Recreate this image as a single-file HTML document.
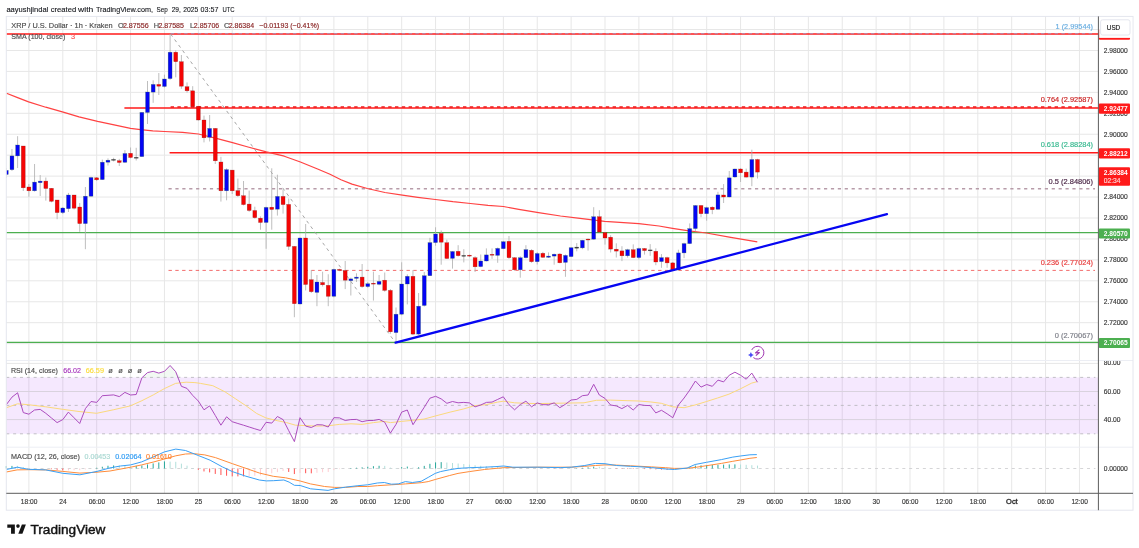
<!DOCTYPE html>
<html><head><meta charset="utf-8"><title>XRP / U.S. Dollar chart</title>
<style>html,body{margin:0;padding:0;background:#fff}body{width:1139px;height:548px;overflow:hidden;font-family:"Liberation Sans",sans-serif}</style>
</head><body>
<svg width="1139" height="548" viewBox="0 0 1139 548" style="display:block;will-change:transform" font-family="Liberation Sans, sans-serif">
<rect x="0" y="0" width="1139" height="548" fill="#ffffff"/>
<line x1="28.90" y1="16.4" x2="28.90" y2="493.3" stroke="#e7e7e7" stroke-width="1"/>
<line x1="62.79" y1="16.4" x2="62.79" y2="493.3" stroke="#e7e7e7" stroke-width="1"/>
<line x1="96.68" y1="16.4" x2="96.68" y2="493.3" stroke="#e7e7e7" stroke-width="1"/>
<line x1="130.57" y1="16.4" x2="130.57" y2="493.3" stroke="#e7e7e7" stroke-width="1"/>
<line x1="164.46" y1="16.4" x2="164.46" y2="493.3" stroke="#e7e7e7" stroke-width="1"/>
<line x1="198.35" y1="16.4" x2="198.35" y2="493.3" stroke="#e7e7e7" stroke-width="1"/>
<line x1="232.23" y1="16.4" x2="232.23" y2="493.3" stroke="#e7e7e7" stroke-width="1"/>
<line x1="266.12" y1="16.4" x2="266.12" y2="493.3" stroke="#e7e7e7" stroke-width="1"/>
<line x1="300.01" y1="16.4" x2="300.01" y2="493.3" stroke="#e7e7e7" stroke-width="1"/>
<line x1="333.90" y1="16.4" x2="333.90" y2="493.3" stroke="#e7e7e7" stroke-width="1"/>
<line x1="367.79" y1="16.4" x2="367.79" y2="493.3" stroke="#e7e7e7" stroke-width="1"/>
<line x1="401.68" y1="16.4" x2="401.68" y2="493.3" stroke="#e7e7e7" stroke-width="1"/>
<line x1="435.57" y1="16.4" x2="435.57" y2="493.3" stroke="#e7e7e7" stroke-width="1"/>
<line x1="469.46" y1="16.4" x2="469.46" y2="493.3" stroke="#e7e7e7" stroke-width="1"/>
<line x1="503.35" y1="16.4" x2="503.35" y2="493.3" stroke="#e7e7e7" stroke-width="1"/>
<line x1="537.24" y1="16.4" x2="537.24" y2="493.3" stroke="#e7e7e7" stroke-width="1"/>
<line x1="571.12" y1="16.4" x2="571.12" y2="493.3" stroke="#e7e7e7" stroke-width="1"/>
<line x1="605.01" y1="16.4" x2="605.01" y2="493.3" stroke="#e7e7e7" stroke-width="1"/>
<line x1="638.90" y1="16.4" x2="638.90" y2="493.3" stroke="#e7e7e7" stroke-width="1"/>
<line x1="672.79" y1="16.4" x2="672.79" y2="493.3" stroke="#e7e7e7" stroke-width="1"/>
<line x1="706.68" y1="16.4" x2="706.68" y2="493.3" stroke="#e7e7e7" stroke-width="1"/>
<line x1="740.57" y1="16.4" x2="740.57" y2="493.3" stroke="#e7e7e7" stroke-width="1"/>
<line x1="774.46" y1="16.4" x2="774.46" y2="493.3" stroke="#e7e7e7" stroke-width="1"/>
<line x1="808.35" y1="16.4" x2="808.35" y2="493.3" stroke="#e7e7e7" stroke-width="1"/>
<line x1="842.24" y1="16.4" x2="842.24" y2="493.3" stroke="#e7e7e7" stroke-width="1"/>
<line x1="876.12" y1="16.4" x2="876.12" y2="493.3" stroke="#e7e7e7" stroke-width="1"/>
<line x1="910.01" y1="16.4" x2="910.01" y2="493.3" stroke="#e7e7e7" stroke-width="1"/>
<line x1="943.90" y1="16.4" x2="943.90" y2="493.3" stroke="#e7e7e7" stroke-width="1"/>
<line x1="977.79" y1="16.4" x2="977.79" y2="493.3" stroke="#e7e7e7" stroke-width="1"/>
<line x1="1011.68" y1="16.4" x2="1011.68" y2="493.3" stroke="#e7e7e7" stroke-width="1"/>
<line x1="1045.57" y1="16.4" x2="1045.57" y2="493.3" stroke="#e7e7e7" stroke-width="1"/>
<line x1="1079.46" y1="16.4" x2="1079.46" y2="493.3" stroke="#e7e7e7" stroke-width="1"/>
<line x1="6.3" y1="29.54" x2="1098.4" y2="29.54" stroke="#e7e7e7" stroke-width="1"/>
<line x1="6.3" y1="50.48" x2="1098.4" y2="50.48" stroke="#e7e7e7" stroke-width="1"/>
<line x1="6.3" y1="71.42" x2="1098.4" y2="71.42" stroke="#e7e7e7" stroke-width="1"/>
<line x1="6.3" y1="92.36" x2="1098.4" y2="92.36" stroke="#e7e7e7" stroke-width="1"/>
<line x1="6.3" y1="113.30" x2="1098.4" y2="113.30" stroke="#e7e7e7" stroke-width="1"/>
<line x1="6.3" y1="134.24" x2="1098.4" y2="134.24" stroke="#e7e7e7" stroke-width="1"/>
<line x1="6.3" y1="155.18" x2="1098.4" y2="155.18" stroke="#e7e7e7" stroke-width="1"/>
<line x1="6.3" y1="176.12" x2="1098.4" y2="176.12" stroke="#e7e7e7" stroke-width="1"/>
<line x1="6.3" y1="197.06" x2="1098.4" y2="197.06" stroke="#e7e7e7" stroke-width="1"/>
<line x1="6.3" y1="218.00" x2="1098.4" y2="218.00" stroke="#e7e7e7" stroke-width="1"/>
<line x1="6.3" y1="238.94" x2="1098.4" y2="238.94" stroke="#e7e7e7" stroke-width="1"/>
<line x1="6.3" y1="259.88" x2="1098.4" y2="259.88" stroke="#e7e7e7" stroke-width="1"/>
<line x1="6.3" y1="280.82" x2="1098.4" y2="280.82" stroke="#e7e7e7" stroke-width="1"/>
<line x1="6.3" y1="301.76" x2="1098.4" y2="301.76" stroke="#e7e7e7" stroke-width="1"/>
<line x1="6.3" y1="322.70" x2="1098.4" y2="322.70" stroke="#e7e7e7" stroke-width="1"/>
<line x1="6.3" y1="343.64" x2="1098.4" y2="343.64" stroke="#e7e7e7" stroke-width="1"/>
<rect x="6.3" y="377.4" width="1092.1" height="56.4" fill="#ac3ff7" fill-opacity="0.12"/>
<line x1="6.3" y1="363.40" x2="1098.4" y2="363.40" stroke="#e7e7e7" stroke-width="1"/>
<line x1="6.3" y1="391.50" x2="1098.4" y2="391.50" stroke="#d9d2de" stroke-width="1"/>
<line x1="6.3" y1="419.60" x2="1098.4" y2="419.60" stroke="#d9d2de" stroke-width="1"/>
<line x1="6.3" y1="377.40" x2="1095.4" y2="377.40" stroke="#b4b2b8" stroke-width="0.8" stroke-dasharray="3,3.84"/>
<line x1="6.3" y1="405.40" x2="1095.4" y2="405.40" stroke="#b4b2b8" stroke-width="0.8" stroke-dasharray="3,3.84"/>
<line x1="6.3" y1="433.80" x2="1095.4" y2="433.80" stroke="#b4b2b8" stroke-width="0.8" stroke-dasharray="3,3.84"/>
<line x1="6.3" y1="468.5" x2="1095.4" y2="468.5" stroke="#cacacd" stroke-width="0.8" stroke-dasharray="3,3.84"/>
<line x1="6.3" y1="360.50" x2="1133.0" y2="360.50" stroke="#eceef4" stroke-width="1"/>
<line x1="6.3" y1="447.20" x2="1133.0" y2="447.20" stroke="#eceef4" stroke-width="1"/>
<line x1="6.3" y1="34.0" x2="1098.4" y2="34.0" stroke="#ff1a1a" stroke-width="1.5"/>
<line x1="170.6" y1="33.7" x2="1095" y2="33.7" stroke="#8fa6d8" stroke-width="0.7" stroke-dasharray="3.4,3.4"/>
<line x1="124.4" y1="108.0" x2="1098.4" y2="108.0" stroke="#ff1a1a" stroke-width="1.4"/>
<line x1="170.6" y1="107.0" x2="1095" y2="107.0" stroke="#f01818" stroke-width="1.3" stroke-dasharray="3.4,3.4"/>
<line x1="169.6" y1="152.7" x2="1098.4" y2="152.7" stroke="#ff1a1a" stroke-width="1.4"/>
<line x1="168.5" y1="188.8" x2="1095" y2="188.8" stroke="#b79ca9" stroke-width="1.5" stroke-dasharray="3.2,3.7"/>
<line x1="168.5" y1="270.4" x2="1095" y2="270.4" stroke="#f04848" stroke-width="0.8" stroke-dasharray="3.4,3.4"/>
<line x1="6.3" y1="232.6" x2="1098.4" y2="232.6" stroke="#4caf50" stroke-width="1.4"/>
<line x1="6.3" y1="342.4" x2="1098.4" y2="342.4" stroke="#4caf50" stroke-width="1.4"/>
<line x1="170.6" y1="34" x2="395" y2="342" stroke="#9c9c9c" stroke-width="0.9" stroke-dasharray="3.2,3.6"/>
<polyline points="6.5,93.2 17.6,97.6 28.6,101.9 45.7,107.2 63.2,112.1 79.0,116.9 97.6,121.3 114.1,124.8 130.5,128.3 140.5,129.7 152.8,130.9 164.5,131.5 182.6,132.3 198.4,134.0 217.3,138.6 232.5,142.6 248.0,147.0 266.4,151.9 284.3,156.2 300.4,162.0 317.6,169.0 330.0,174.3 341.0,179.8 352.0,184.1 367.3,188.5 384.9,192.5 402.4,195.1 417.8,197.3 435.4,199.5 452.9,201.7 470.5,203.5 488.0,205.4 503.4,206.5 518.8,209.4 538.5,212.7 560.5,216.0 580.0,218.4 604.6,221.3 638.8,223.6 659.0,226.0 672.5,228.3 688.9,230.9 706.4,233.0 729.3,237.1 757.3,241.8" fill="none" stroke="#ff4242" stroke-width="1.2" stroke-linejoin="round"/>
<clipPath id="cp"><rect x="6.3" y="16.4" width="1092.1" height="476.9"/></clipPath>
<g clip-path="url(#cp)">
<line x1="6.31" y1="168.0" x2="6.31" y2="178.0" stroke="#adadad" stroke-width="0.8"/>
<rect x="4.36" y="170.4" width="3.9" height="4.1" fill="#0404f4" stroke="#2e6b3a" stroke-opacity="0.55" stroke-width="0.45"/>
<line x1="11.96" y1="149.0" x2="11.96" y2="171.0" stroke="#adadad" stroke-width="0.8"/>
<rect x="10.01" y="155.9" width="3.9" height="13.8" fill="#0404f4" stroke="#2e6b3a" stroke-opacity="0.55" stroke-width="0.45"/>
<line x1="17.60" y1="136.2" x2="17.60" y2="168.0" stroke="#adadad" stroke-width="0.8"/>
<rect x="15.65" y="145.0" width="3.9" height="10.9" fill="#0404f4" stroke="#2e6b3a" stroke-opacity="0.55" stroke-width="0.45"/>
<line x1="23.25" y1="146.0" x2="23.25" y2="191.0" stroke="#adadad" stroke-width="0.8"/>
<rect x="21.30" y="146.0" width="3.9" height="41.8" fill="#f40404" stroke="#7a1414" stroke-opacity="0.55" stroke-width="0.45"/>
<line x1="28.90" y1="184.0" x2="28.90" y2="196.7" stroke="#adadad" stroke-width="0.8"/>
<rect x="26.95" y="187.0" width="3.9" height="3.8" fill="#f40404" stroke="#7a1414" stroke-opacity="0.55" stroke-width="0.45"/>
<line x1="34.55" y1="164.0" x2="34.55" y2="191.6" stroke="#adadad" stroke-width="0.8"/>
<rect x="32.60" y="182.1" width="3.9" height="8.7" fill="#0404f4" stroke="#2e6b3a" stroke-opacity="0.55" stroke-width="0.45"/>
<line x1="40.20" y1="175.0" x2="40.20" y2="196.0" stroke="#adadad" stroke-width="0.8"/>
<rect x="38.25" y="181.1" width="3.9" height="1.6" fill="#0404f4" stroke="#2e6b3a" stroke-opacity="0.55" stroke-width="0.45"/>
<line x1="45.84" y1="177.5" x2="45.84" y2="200.6" stroke="#adadad" stroke-width="0.8"/>
<rect x="43.89" y="181.1" width="3.9" height="7.4" fill="#f40404" stroke="#7a1414" stroke-opacity="0.55" stroke-width="0.45"/>
<line x1="51.49" y1="188.0" x2="51.49" y2="202.3" stroke="#adadad" stroke-width="0.8"/>
<rect x="49.54" y="188.3" width="3.9" height="13.0" fill="#f40404" stroke="#7a1414" stroke-opacity="0.55" stroke-width="0.45"/>
<line x1="57.14" y1="200.0" x2="57.14" y2="219.2" stroke="#adadad" stroke-width="0.8"/>
<rect x="55.19" y="200.0" width="3.9" height="12.6" fill="#f40404" stroke="#7a1414" stroke-opacity="0.55" stroke-width="0.45"/>
<line x1="62.79" y1="207.0" x2="62.79" y2="214.0" stroke="#adadad" stroke-width="0.8"/>
<rect x="60.84" y="208.0" width="3.9" height="4.6" fill="#0404f4" stroke="#2e6b3a" stroke-opacity="0.55" stroke-width="0.45"/>
<line x1="68.44" y1="192.9" x2="68.44" y2="212.0" stroke="#adadad" stroke-width="0.8"/>
<rect x="66.49" y="195.0" width="3.9" height="13.7" fill="#0404f4" stroke="#2e6b3a" stroke-opacity="0.55" stroke-width="0.45"/>
<line x1="74.08" y1="195.0" x2="74.08" y2="209.5" stroke="#adadad" stroke-width="0.8"/>
<rect x="72.13" y="195.0" width="3.9" height="13.2" fill="#f40404" stroke="#7a1414" stroke-opacity="0.55" stroke-width="0.45"/>
<line x1="79.73" y1="203.0" x2="79.73" y2="231.8" stroke="#adadad" stroke-width="0.8"/>
<rect x="77.78" y="207.0" width="3.9" height="16.6" fill="#f40404" stroke="#7a1414" stroke-opacity="0.55" stroke-width="0.45"/>
<line x1="85.38" y1="187.0" x2="85.38" y2="249.2" stroke="#adadad" stroke-width="0.8"/>
<rect x="83.43" y="196.2" width="3.9" height="27.4" fill="#0404f4" stroke="#2e6b3a" stroke-opacity="0.55" stroke-width="0.45"/>
<line x1="91.03" y1="176.7" x2="91.03" y2="196.7" stroke="#adadad" stroke-width="0.8"/>
<rect x="89.08" y="177.5" width="3.9" height="18.7" fill="#0404f4" stroke="#2e6b3a" stroke-opacity="0.55" stroke-width="0.45"/>
<line x1="96.68" y1="177.0" x2="96.68" y2="181.0" stroke="#adadad" stroke-width="0.8"/>
<rect x="94.73" y="177.8" width="3.9" height="2.0" fill="#f40404" stroke="#7a1414" stroke-opacity="0.55" stroke-width="0.45"/>
<line x1="102.32" y1="159.6" x2="102.32" y2="180.0" stroke="#adadad" stroke-width="0.8"/>
<rect x="100.37" y="162.2" width="3.9" height="17.4" fill="#0404f4" stroke="#2e6b3a" stroke-opacity="0.55" stroke-width="0.45"/>
<line x1="107.97" y1="158.4" x2="107.97" y2="165.5" stroke="#adadad" stroke-width="0.8"/>
<rect x="106.02" y="160.2" width="3.9" height="2.0" fill="#0404f4" stroke="#2e6b3a" stroke-opacity="0.55" stroke-width="0.45"/>
<line x1="113.62" y1="157.8" x2="113.62" y2="161.4" stroke="#adadad" stroke-width="0.8"/>
<rect x="111.67" y="159.4" width="3.9" height="0.9" fill="#333333" stroke="#333333" stroke-opacity="0.55" stroke-width="0.45"/>
<line x1="119.27" y1="158.9" x2="119.27" y2="166.0" stroke="#adadad" stroke-width="0.8"/>
<rect x="117.32" y="160.7" width="3.9" height="1.8" fill="#f40404" stroke="#7a1414" stroke-opacity="0.55" stroke-width="0.45"/>
<line x1="124.92" y1="150.1" x2="124.92" y2="163.0" stroke="#adadad" stroke-width="0.8"/>
<rect x="122.97" y="153.5" width="3.9" height="8.8" fill="#0404f4" stroke="#2e6b3a" stroke-opacity="0.55" stroke-width="0.45"/>
<line x1="130.56" y1="147.5" x2="130.56" y2="158.4" stroke="#adadad" stroke-width="0.8"/>
<rect x="128.61" y="153.3" width="3.9" height="4.2" fill="#f40404" stroke="#7a1414" stroke-opacity="0.55" stroke-width="0.45"/>
<line x1="136.21" y1="147.8" x2="136.21" y2="160.5" stroke="#adadad" stroke-width="0.8"/>
<rect x="134.26" y="157.3" width="3.9" height="0.9" fill="#333333" stroke="#333333" stroke-opacity="0.55" stroke-width="0.45"/>
<line x1="141.86" y1="112.0" x2="141.86" y2="157.0" stroke="#adadad" stroke-width="0.8"/>
<rect x="139.91" y="112.4" width="3.9" height="44.2" fill="#0404f4" stroke="#2e6b3a" stroke-opacity="0.55" stroke-width="0.45"/>
<line x1="147.51" y1="81.0" x2="147.51" y2="124.0" stroke="#adadad" stroke-width="0.8"/>
<rect x="145.56" y="92.0" width="3.9" height="20.5" fill="#0404f4" stroke="#2e6b3a" stroke-opacity="0.55" stroke-width="0.45"/>
<line x1="153.16" y1="80.3" x2="153.16" y2="102.8" stroke="#adadad" stroke-width="0.8"/>
<rect x="151.21" y="84.4" width="3.9" height="7.7" fill="#0404f4" stroke="#2e6b3a" stroke-opacity="0.55" stroke-width="0.45"/>
<line x1="158.80" y1="73.0" x2="158.80" y2="95.0" stroke="#adadad" stroke-width="0.8"/>
<rect x="156.85" y="84.4" width="3.9" height="1.8" fill="#f40404" stroke="#7a1414" stroke-opacity="0.55" stroke-width="0.45"/>
<line x1="164.45" y1="74.7" x2="164.45" y2="87.5" stroke="#adadad" stroke-width="0.8"/>
<rect x="162.50" y="79.0" width="3.9" height="7.5" fill="#0404f4" stroke="#2e6b3a" stroke-opacity="0.55" stroke-width="0.45"/>
<line x1="170.10" y1="34.1" x2="170.10" y2="79.8" stroke="#adadad" stroke-width="0.8"/>
<rect x="168.15" y="52.2" width="3.9" height="26.4" fill="#0404f4" stroke="#2e6b3a" stroke-opacity="0.55" stroke-width="0.45"/>
<line x1="175.75" y1="50.4" x2="175.75" y2="77.3" stroke="#adadad" stroke-width="0.8"/>
<rect x="173.80" y="52.2" width="3.9" height="9.5" fill="#f40404" stroke="#7a1414" stroke-opacity="0.55" stroke-width="0.45"/>
<line x1="181.40" y1="55.0" x2="181.40" y2="88.8" stroke="#adadad" stroke-width="0.8"/>
<rect x="179.45" y="61.7" width="3.9" height="24.5" fill="#f40404" stroke="#7a1414" stroke-opacity="0.55" stroke-width="0.45"/>
<line x1="187.04" y1="82.4" x2="187.04" y2="92.6" stroke="#adadad" stroke-width="0.8"/>
<rect x="185.09" y="86.7" width="3.9" height="4.1" fill="#f40404" stroke="#7a1414" stroke-opacity="0.55" stroke-width="0.45"/>
<line x1="192.69" y1="86.2" x2="192.69" y2="107.0" stroke="#adadad" stroke-width="0.8"/>
<rect x="190.74" y="90.8" width="3.9" height="15.9" fill="#f40404" stroke="#7a1414" stroke-opacity="0.55" stroke-width="0.45"/>
<line x1="198.34" y1="106.0" x2="198.34" y2="120.7" stroke="#adadad" stroke-width="0.8"/>
<rect x="196.39" y="106.2" width="3.9" height="13.8" fill="#f40404" stroke="#7a1414" stroke-opacity="0.55" stroke-width="0.45"/>
<line x1="203.99" y1="115.6" x2="203.99" y2="142.4" stroke="#adadad" stroke-width="0.8"/>
<rect x="202.04" y="120.0" width="3.9" height="17.8" fill="#f40404" stroke="#7a1414" stroke-opacity="0.55" stroke-width="0.45"/>
<line x1="209.64" y1="115.0" x2="209.64" y2="141.5" stroke="#adadad" stroke-width="0.8"/>
<rect x="207.69" y="128.4" width="3.9" height="8.9" fill="#0404f4" stroke="#2e6b3a" stroke-opacity="0.55" stroke-width="0.45"/>
<line x1="215.28" y1="128.0" x2="215.28" y2="164.0" stroke="#adadad" stroke-width="0.8"/>
<rect x="213.33" y="128.4" width="3.9" height="32.4" fill="#f40404" stroke="#7a1414" stroke-opacity="0.55" stroke-width="0.45"/>
<line x1="220.93" y1="156.8" x2="220.93" y2="201.6" stroke="#adadad" stroke-width="0.8"/>
<rect x="218.98" y="162.0" width="3.9" height="28.8" fill="#f40404" stroke="#7a1414" stroke-opacity="0.55" stroke-width="0.45"/>
<line x1="226.58" y1="168.3" x2="226.58" y2="200.3" stroke="#adadad" stroke-width="0.8"/>
<rect x="224.63" y="169.6" width="3.9" height="21.2" fill="#0404f4" stroke="#2e6b3a" stroke-opacity="0.55" stroke-width="0.45"/>
<line x1="232.23" y1="170.0" x2="232.23" y2="194.0" stroke="#adadad" stroke-width="0.8"/>
<rect x="230.28" y="170.1" width="3.9" height="20.7" fill="#f40404" stroke="#7a1414" stroke-opacity="0.55" stroke-width="0.45"/>
<line x1="237.88" y1="178.6" x2="237.88" y2="197.0" stroke="#adadad" stroke-width="0.8"/>
<rect x="235.93" y="190.6" width="3.9" height="5.1" fill="#f40404" stroke="#7a1414" stroke-opacity="0.55" stroke-width="0.45"/>
<line x1="243.52" y1="181.0" x2="243.52" y2="205.4" stroke="#adadad" stroke-width="0.8"/>
<rect x="241.57" y="195.7" width="3.9" height="8.9" fill="#f40404" stroke="#7a1414" stroke-opacity="0.55" stroke-width="0.45"/>
<line x1="249.17" y1="190.6" x2="249.17" y2="211.8" stroke="#adadad" stroke-width="0.8"/>
<rect x="247.22" y="204.1" width="3.9" height="6.4" fill="#f40404" stroke="#7a1414" stroke-opacity="0.55" stroke-width="0.45"/>
<line x1="254.82" y1="206.7" x2="254.82" y2="218.7" stroke="#adadad" stroke-width="0.8"/>
<rect x="252.87" y="210.5" width="3.9" height="7.2" fill="#f40404" stroke="#7a1414" stroke-opacity="0.55" stroke-width="0.45"/>
<line x1="260.47" y1="216.4" x2="260.47" y2="229.7" stroke="#adadad" stroke-width="0.8"/>
<rect x="258.52" y="218.2" width="3.9" height="4.3" fill="#f40404" stroke="#7a1414" stroke-opacity="0.55" stroke-width="0.45"/>
<line x1="266.12" y1="206.7" x2="266.12" y2="248.8" stroke="#adadad" stroke-width="0.8"/>
<rect x="264.17" y="207.4" width="3.9" height="15.1" fill="#0404f4" stroke="#2e6b3a" stroke-opacity="0.55" stroke-width="0.45"/>
<line x1="271.76" y1="168.3" x2="271.76" y2="229.7" stroke="#adadad" stroke-width="0.8"/>
<rect x="269.81" y="207.2" width="3.9" height="2.3" fill="#f40404" stroke="#7a1414" stroke-opacity="0.55" stroke-width="0.45"/>
<line x1="277.41" y1="174.7" x2="277.41" y2="215.6" stroke="#adadad" stroke-width="0.8"/>
<rect x="275.46" y="196.4" width="3.9" height="12.8" fill="#0404f4" stroke="#2e6b3a" stroke-opacity="0.55" stroke-width="0.45"/>
<line x1="283.06" y1="189.3" x2="283.06" y2="213.6" stroke="#adadad" stroke-width="0.8"/>
<rect x="281.11" y="196.4" width="3.9" height="8.2" fill="#f40404" stroke="#7a1414" stroke-opacity="0.55" stroke-width="0.45"/>
<line x1="288.71" y1="198.5" x2="288.71" y2="250.0" stroke="#adadad" stroke-width="0.8"/>
<rect x="286.76" y="204.4" width="3.9" height="42.0" fill="#f40404" stroke="#7a1414" stroke-opacity="0.55" stroke-width="0.45"/>
<line x1="294.36" y1="246.0" x2="294.36" y2="317.2" stroke="#adadad" stroke-width="0.8"/>
<rect x="292.41" y="246.4" width="3.9" height="57.3" fill="#f40404" stroke="#7a1414" stroke-opacity="0.55" stroke-width="0.45"/>
<line x1="300.00" y1="237.5" x2="300.00" y2="304.5" stroke="#adadad" stroke-width="0.8"/>
<rect x="298.05" y="238.0" width="3.9" height="66.0" fill="#0404f4" stroke="#2e6b3a" stroke-opacity="0.55" stroke-width="0.45"/>
<line x1="305.65" y1="224.0" x2="305.65" y2="290.4" stroke="#adadad" stroke-width="0.8"/>
<rect x="303.70" y="238.0" width="3.9" height="46.5" fill="#f40404" stroke="#7a1414" stroke-opacity="0.55" stroke-width="0.45"/>
<line x1="311.30" y1="270.0" x2="311.30" y2="293.0" stroke="#adadad" stroke-width="0.8"/>
<rect x="309.35" y="279.7" width="3.9" height="12.0" fill="#f40404" stroke="#7a1414" stroke-opacity="0.55" stroke-width="0.45"/>
<line x1="316.95" y1="275.0" x2="316.95" y2="306.2" stroke="#adadad" stroke-width="0.8"/>
<rect x="315.00" y="282.0" width="3.9" height="10.4" fill="#0404f4" stroke="#2e6b3a" stroke-opacity="0.55" stroke-width="0.45"/>
<line x1="322.60" y1="271.7" x2="322.60" y2="286.5" stroke="#adadad" stroke-width="0.8"/>
<rect x="320.65" y="282.5" width="3.9" height="2.3" fill="#f40404" stroke="#7a1414" stroke-opacity="0.55" stroke-width="0.45"/>
<line x1="328.24" y1="274.3" x2="328.24" y2="306.2" stroke="#adadad" stroke-width="0.8"/>
<rect x="326.29" y="285.3" width="3.9" height="11.0" fill="#f40404" stroke="#7a1414" stroke-opacity="0.55" stroke-width="0.45"/>
<line x1="333.89" y1="268.7" x2="333.89" y2="297.3" stroke="#adadad" stroke-width="0.8"/>
<rect x="331.94" y="269.4" width="3.9" height="26.9" fill="#0404f4" stroke="#2e6b3a" stroke-opacity="0.55" stroke-width="0.45"/>
<line x1="339.54" y1="268.7" x2="339.54" y2="271.2" stroke="#adadad" stroke-width="0.8"/>
<rect x="337.59" y="269.4" width="3.9" height="0.9" fill="#f40404" stroke="#7a1414" stroke-opacity="0.55" stroke-width="0.45"/>
<line x1="345.19" y1="261.0" x2="345.19" y2="289.1" stroke="#adadad" stroke-width="0.8"/>
<rect x="343.24" y="270.5" width="3.9" height="9.7" fill="#f40404" stroke="#7a1414" stroke-opacity="0.55" stroke-width="0.45"/>
<line x1="350.84" y1="277.6" x2="350.84" y2="295.5" stroke="#adadad" stroke-width="0.8"/>
<rect x="348.89" y="278.9" width="3.9" height="1.8" fill="#0404f4" stroke="#2e6b3a" stroke-opacity="0.55" stroke-width="0.45"/>
<line x1="356.48" y1="273.3" x2="356.48" y2="282.0" stroke="#adadad" stroke-width="0.8"/>
<rect x="354.53" y="277.1" width="3.9" height="1.3" fill="#0404f4" stroke="#2e6b3a" stroke-opacity="0.55" stroke-width="0.45"/>
<line x1="362.13" y1="264.0" x2="362.13" y2="287.8" stroke="#adadad" stroke-width="0.8"/>
<rect x="360.18" y="277.1" width="3.9" height="9.5" fill="#f40404" stroke="#7a1414" stroke-opacity="0.55" stroke-width="0.45"/>
<line x1="367.78" y1="282.0" x2="367.78" y2="287.8" stroke="#adadad" stroke-width="0.8"/>
<rect x="365.83" y="283.7" width="3.9" height="2.9" fill="#0404f4" stroke="#2e6b3a" stroke-opacity="0.55" stroke-width="0.45"/>
<line x1="373.43" y1="271.7" x2="373.43" y2="300.6" stroke="#adadad" stroke-width="0.8"/>
<rect x="371.48" y="283.2" width="3.9" height="0.9" fill="#f40404" stroke="#7a1414" stroke-opacity="0.55" stroke-width="0.45"/>
<line x1="379.08" y1="275.0" x2="379.08" y2="285.3" stroke="#adadad" stroke-width="0.8"/>
<rect x="377.13" y="281.4" width="3.9" height="2.9" fill="#0404f4" stroke="#2e6b3a" stroke-opacity="0.55" stroke-width="0.45"/>
<line x1="384.72" y1="272.5" x2="384.72" y2="291.7" stroke="#adadad" stroke-width="0.8"/>
<rect x="382.77" y="280.2" width="3.9" height="10.2" fill="#f40404" stroke="#7a1414" stroke-opacity="0.55" stroke-width="0.45"/>
<line x1="390.37" y1="289.0" x2="390.37" y2="333.8" stroke="#adadad" stroke-width="0.8"/>
<rect x="388.42" y="290.4" width="3.9" height="41.4" fill="#f40404" stroke="#7a1414" stroke-opacity="0.55" stroke-width="0.45"/>
<line x1="396.02" y1="307.5" x2="396.02" y2="342.0" stroke="#adadad" stroke-width="0.8"/>
<rect x="394.07" y="314.2" width="3.9" height="18.4" fill="#0404f4" stroke="#2e6b3a" stroke-opacity="0.55" stroke-width="0.45"/>
<line x1="401.67" y1="262.3" x2="401.67" y2="315.2" stroke="#adadad" stroke-width="0.8"/>
<rect x="399.72" y="284.0" width="3.9" height="30.2" fill="#0404f4" stroke="#2e6b3a" stroke-opacity="0.55" stroke-width="0.45"/>
<line x1="407.32" y1="274.3" x2="407.32" y2="304.4" stroke="#adadad" stroke-width="0.8"/>
<rect x="405.37" y="276.3" width="3.9" height="7.7" fill="#0404f4" stroke="#2e6b3a" stroke-opacity="0.55" stroke-width="0.45"/>
<line x1="412.96" y1="270.0" x2="412.96" y2="335.1" stroke="#adadad" stroke-width="0.8"/>
<rect x="411.01" y="276.3" width="3.9" height="57.8" fill="#f40404" stroke="#7a1414" stroke-opacity="0.55" stroke-width="0.45"/>
<line x1="418.61" y1="293.0" x2="418.61" y2="335.1" stroke="#adadad" stroke-width="0.8"/>
<rect x="416.66" y="306.2" width="3.9" height="27.9" fill="#0404f4" stroke="#2e6b3a" stroke-opacity="0.55" stroke-width="0.45"/>
<line x1="424.26" y1="272.0" x2="424.26" y2="306.5" stroke="#adadad" stroke-width="0.8"/>
<rect x="422.31" y="275.7" width="3.9" height="29.8" fill="#0404f4" stroke="#2e6b3a" stroke-opacity="0.55" stroke-width="0.45"/>
<line x1="429.91" y1="237.8" x2="429.91" y2="276.0" stroke="#adadad" stroke-width="0.8"/>
<rect x="427.96" y="242.6" width="3.9" height="33.1" fill="#0404f4" stroke="#2e6b3a" stroke-opacity="0.55" stroke-width="0.45"/>
<line x1="435.56" y1="227.3" x2="435.56" y2="245.7" stroke="#adadad" stroke-width="0.8"/>
<rect x="433.61" y="234.0" width="3.9" height="8.6" fill="#0404f4" stroke="#2e6b3a" stroke-opacity="0.55" stroke-width="0.45"/>
<line x1="441.20" y1="230.5" x2="441.20" y2="264.7" stroke="#adadad" stroke-width="0.8"/>
<rect x="439.25" y="233.4" width="3.9" height="8.8" fill="#f40404" stroke="#7a1414" stroke-opacity="0.55" stroke-width="0.45"/>
<line x1="446.85" y1="239.6" x2="446.85" y2="259.0" stroke="#adadad" stroke-width="0.8"/>
<rect x="444.90" y="242.7" width="3.9" height="15.8" fill="#f40404" stroke="#7a1414" stroke-opacity="0.55" stroke-width="0.45"/>
<line x1="452.50" y1="251.0" x2="452.50" y2="268.6" stroke="#adadad" stroke-width="0.8"/>
<rect x="450.55" y="251.5" width="3.9" height="6.9" fill="#0404f4" stroke="#2e6b3a" stroke-opacity="0.55" stroke-width="0.45"/>
<line x1="458.15" y1="245.2" x2="458.15" y2="256.6" stroke="#adadad" stroke-width="0.8"/>
<rect x="456.20" y="251.3" width="3.9" height="4.4" fill="#f40404" stroke="#7a1414" stroke-opacity="0.55" stroke-width="0.45"/>
<line x1="463.80" y1="249.2" x2="463.80" y2="262.4" stroke="#adadad" stroke-width="0.8"/>
<rect x="461.85" y="255.4" width="3.9" height="0.9" fill="#333333" stroke="#333333" stroke-opacity="0.55" stroke-width="0.45"/>
<line x1="469.44" y1="254.5" x2="469.44" y2="257.1" stroke="#adadad" stroke-width="0.8"/>
<rect x="467.49" y="255.2" width="3.9" height="0.9" fill="#f40404" stroke="#7a1414" stroke-opacity="0.55" stroke-width="0.45"/>
<line x1="475.09" y1="256.3" x2="475.09" y2="272.0" stroke="#adadad" stroke-width="0.8"/>
<rect x="473.14" y="257.7" width="3.9" height="9.1" fill="#f40404" stroke="#7a1414" stroke-opacity="0.55" stroke-width="0.45"/>
<line x1="480.74" y1="254.5" x2="480.74" y2="267.2" stroke="#adadad" stroke-width="0.8"/>
<rect x="478.79" y="261.0" width="3.9" height="5.6" fill="#0404f4" stroke="#2e6b3a" stroke-opacity="0.55" stroke-width="0.45"/>
<line x1="486.39" y1="248.4" x2="486.39" y2="261.5" stroke="#adadad" stroke-width="0.8"/>
<rect x="484.44" y="254.9" width="3.9" height="6.1" fill="#0404f4" stroke="#2e6b3a" stroke-opacity="0.55" stroke-width="0.45"/>
<line x1="492.04" y1="248.4" x2="492.04" y2="258.9" stroke="#adadad" stroke-width="0.8"/>
<rect x="490.09" y="254.3" width="3.9" height="0.9" fill="#f40404" stroke="#7a1414" stroke-opacity="0.55" stroke-width="0.45"/>
<line x1="497.68" y1="247.5" x2="497.68" y2="262.8" stroke="#adadad" stroke-width="0.8"/>
<rect x="495.73" y="248.4" width="3.9" height="7.0" fill="#0404f4" stroke="#2e6b3a" stroke-opacity="0.55" stroke-width="0.45"/>
<line x1="503.33" y1="241.0" x2="503.33" y2="249.2" stroke="#adadad" stroke-width="0.8"/>
<rect x="501.38" y="241.7" width="3.9" height="7.0" fill="#0404f4" stroke="#2e6b3a" stroke-opacity="0.55" stroke-width="0.45"/>
<line x1="508.98" y1="236.0" x2="508.98" y2="258.9" stroke="#adadad" stroke-width="0.8"/>
<rect x="507.03" y="241.3" width="3.9" height="16.4" fill="#f40404" stroke="#7a1414" stroke-opacity="0.55" stroke-width="0.45"/>
<line x1="514.63" y1="257.1" x2="514.63" y2="270.8" stroke="#adadad" stroke-width="0.8"/>
<rect x="512.68" y="257.7" width="3.9" height="12.1" fill="#f40404" stroke="#7a1414" stroke-opacity="0.55" stroke-width="0.45"/>
<line x1="520.28" y1="256.3" x2="520.28" y2="277.7" stroke="#adadad" stroke-width="0.8"/>
<rect x="518.33" y="257.7" width="3.9" height="12.1" fill="#0404f4" stroke="#2e6b3a" stroke-opacity="0.55" stroke-width="0.45"/>
<line x1="525.92" y1="245.2" x2="525.92" y2="258.4" stroke="#adadad" stroke-width="0.8"/>
<rect x="523.97" y="249.6" width="3.9" height="8.1" fill="#0404f4" stroke="#2e6b3a" stroke-opacity="0.55" stroke-width="0.45"/>
<line x1="531.57" y1="249.2" x2="531.57" y2="262.8" stroke="#adadad" stroke-width="0.8"/>
<rect x="529.62" y="250.3" width="3.9" height="11.4" fill="#f40404" stroke="#7a1414" stroke-opacity="0.55" stroke-width="0.45"/>
<line x1="537.22" y1="252.2" x2="537.22" y2="264.5" stroke="#adadad" stroke-width="0.8"/>
<rect x="535.27" y="253.5" width="3.9" height="8.2" fill="#0404f4" stroke="#2e6b3a" stroke-opacity="0.55" stroke-width="0.45"/>
<line x1="542.87" y1="251.9" x2="542.87" y2="258.0" stroke="#adadad" stroke-width="0.8"/>
<rect x="540.92" y="253.3" width="3.9" height="4.0" fill="#f40404" stroke="#7a1414" stroke-opacity="0.55" stroke-width="0.45"/>
<line x1="548.52" y1="252.4" x2="548.52" y2="258.0" stroke="#adadad" stroke-width="0.8"/>
<rect x="546.57" y="256.1" width="3.9" height="1.2" fill="#0404f4" stroke="#2e6b3a" stroke-opacity="0.55" stroke-width="0.45"/>
<line x1="554.16" y1="253.6" x2="554.16" y2="264.7" stroke="#adadad" stroke-width="0.8"/>
<rect x="552.21" y="254.2" width="3.9" height="1.9" fill="#0404f4" stroke="#2e6b3a" stroke-opacity="0.55" stroke-width="0.45"/>
<line x1="559.81" y1="253.3" x2="559.81" y2="263.3" stroke="#adadad" stroke-width="0.8"/>
<rect x="557.86" y="254.0" width="3.9" height="8.8" fill="#f40404" stroke="#7a1414" stroke-opacity="0.55" stroke-width="0.45"/>
<line x1="565.46" y1="254.5" x2="565.46" y2="276.8" stroke="#adadad" stroke-width="0.8"/>
<rect x="563.51" y="255.4" width="3.9" height="7.0" fill="#0404f4" stroke="#2e6b3a" stroke-opacity="0.55" stroke-width="0.45"/>
<line x1="571.11" y1="247.1" x2="571.11" y2="257.1" stroke="#adadad" stroke-width="0.8"/>
<rect x="569.16" y="247.7" width="3.9" height="8.9" fill="#0404f4" stroke="#2e6b3a" stroke-opacity="0.55" stroke-width="0.45"/>
<line x1="576.76" y1="243.1" x2="576.76" y2="251.3" stroke="#adadad" stroke-width="0.8"/>
<rect x="574.81" y="247.1" width="3.9" height="1.1" fill="#333333" stroke="#333333" stroke-opacity="0.55" stroke-width="0.45"/>
<line x1="582.40" y1="239.9" x2="582.40" y2="249.2" stroke="#adadad" stroke-width="0.8"/>
<rect x="580.45" y="240.3" width="3.9" height="7.6" fill="#0404f4" stroke="#2e6b3a" stroke-opacity="0.55" stroke-width="0.45"/>
<line x1="588.05" y1="238.5" x2="588.05" y2="250.6" stroke="#adadad" stroke-width="0.8"/>
<rect x="586.10" y="239.1" width="3.9" height="0.9" fill="#f40404" stroke="#7a1414" stroke-opacity="0.55" stroke-width="0.45"/>
<line x1="593.70" y1="207.2" x2="593.70" y2="239.6" stroke="#adadad" stroke-width="0.8"/>
<rect x="591.75" y="216.7" width="3.9" height="22.5" fill="#0404f4" stroke="#2e6b3a" stroke-opacity="0.55" stroke-width="0.45"/>
<line x1="599.35" y1="210.2" x2="599.35" y2="232.6" stroke="#adadad" stroke-width="0.8"/>
<rect x="597.40" y="216.7" width="3.9" height="15.4" fill="#f40404" stroke="#7a1414" stroke-opacity="0.55" stroke-width="0.45"/>
<line x1="605.00" y1="232.0" x2="605.00" y2="244.6" stroke="#adadad" stroke-width="0.8"/>
<rect x="603.05" y="232.6" width="3.9" height="5.4" fill="#f40404" stroke="#7a1414" stroke-opacity="0.55" stroke-width="0.45"/>
<line x1="610.64" y1="235.2" x2="610.64" y2="252.5" stroke="#adadad" stroke-width="0.8"/>
<rect x="608.69" y="237.2" width="3.9" height="11.9" fill="#f40404" stroke="#7a1414" stroke-opacity="0.55" stroke-width="0.45"/>
<line x1="616.29" y1="243.3" x2="616.29" y2="257.5" stroke="#adadad" stroke-width="0.8"/>
<rect x="614.34" y="249.2" width="3.9" height="1.9" fill="#f40404" stroke="#7a1414" stroke-opacity="0.55" stroke-width="0.45"/>
<line x1="621.94" y1="246.2" x2="621.94" y2="261.1" stroke="#adadad" stroke-width="0.8"/>
<rect x="619.99" y="250.9" width="3.9" height="4.9" fill="#f40404" stroke="#7a1414" stroke-opacity="0.55" stroke-width="0.45"/>
<line x1="627.59" y1="248.8" x2="627.59" y2="257.6" stroke="#adadad" stroke-width="0.8"/>
<rect x="625.64" y="249.7" width="3.9" height="6.1" fill="#0404f4" stroke="#2e6b3a" stroke-opacity="0.55" stroke-width="0.45"/>
<line x1="633.24" y1="244.4" x2="633.24" y2="258.1" stroke="#adadad" stroke-width="0.8"/>
<rect x="631.29" y="249.7" width="3.9" height="7.9" fill="#f40404" stroke="#7a1414" stroke-opacity="0.55" stroke-width="0.45"/>
<line x1="638.88" y1="247.6" x2="638.88" y2="259.4" stroke="#adadad" stroke-width="0.8"/>
<rect x="636.93" y="248.5" width="3.9" height="9.1" fill="#0404f4" stroke="#2e6b3a" stroke-opacity="0.55" stroke-width="0.45"/>
<line x1="644.53" y1="248.0" x2="644.53" y2="254.6" stroke="#adadad" stroke-width="0.8"/>
<rect x="642.58" y="248.5" width="3.9" height="2.1" fill="#f40404" stroke="#7a1414" stroke-opacity="0.55" stroke-width="0.45"/>
<line x1="650.18" y1="244.1" x2="650.18" y2="255.8" stroke="#adadad" stroke-width="0.8"/>
<rect x="648.23" y="249.9" width="3.9" height="0.9" fill="#333333" stroke="#333333" stroke-opacity="0.55" stroke-width="0.45"/>
<line x1="655.83" y1="248.3" x2="655.83" y2="265.2" stroke="#adadad" stroke-width="0.8"/>
<rect x="653.88" y="251.3" width="3.9" height="10.7" fill="#f40404" stroke="#7a1414" stroke-opacity="0.55" stroke-width="0.45"/>
<line x1="661.48" y1="254.1" x2="661.48" y2="267.8" stroke="#adadad" stroke-width="0.8"/>
<rect x="659.53" y="257.6" width="3.9" height="4.0" fill="#0404f4" stroke="#2e6b3a" stroke-opacity="0.55" stroke-width="0.45"/>
<line x1="667.12" y1="256.7" x2="667.12" y2="267.8" stroke="#adadad" stroke-width="0.8"/>
<rect x="665.17" y="257.6" width="3.9" height="5.3" fill="#f40404" stroke="#7a1414" stroke-opacity="0.55" stroke-width="0.45"/>
<line x1="672.77" y1="262.0" x2="672.77" y2="270.4" stroke="#adadad" stroke-width="0.8"/>
<rect x="670.82" y="262.9" width="3.9" height="7.0" fill="#f40404" stroke="#7a1414" stroke-opacity="0.55" stroke-width="0.45"/>
<line x1="678.42" y1="249.7" x2="678.42" y2="270.4" stroke="#adadad" stroke-width="0.8"/>
<rect x="676.47" y="252.9" width="3.9" height="17.0" fill="#0404f4" stroke="#2e6b3a" stroke-opacity="0.55" stroke-width="0.45"/>
<line x1="684.07" y1="242.7" x2="684.07" y2="258.1" stroke="#adadad" stroke-width="0.8"/>
<rect x="682.12" y="243.6" width="3.9" height="9.3" fill="#0404f4" stroke="#2e6b3a" stroke-opacity="0.55" stroke-width="0.45"/>
<line x1="689.72" y1="223.4" x2="689.72" y2="244.1" stroke="#adadad" stroke-width="0.8"/>
<rect x="687.77" y="228.6" width="3.9" height="15.0" fill="#0404f4" stroke="#2e6b3a" stroke-opacity="0.55" stroke-width="0.45"/>
<line x1="695.36" y1="205.0" x2="695.36" y2="231.3" stroke="#adadad" stroke-width="0.8"/>
<rect x="693.41" y="205.5" width="3.9" height="23.1" fill="#0404f4" stroke="#2e6b3a" stroke-opacity="0.55" stroke-width="0.45"/>
<line x1="701.01" y1="205.0" x2="701.01" y2="217.2" stroke="#adadad" stroke-width="0.8"/>
<rect x="699.06" y="205.5" width="3.9" height="8.2" fill="#f40404" stroke="#7a1414" stroke-opacity="0.55" stroke-width="0.45"/>
<line x1="706.66" y1="206.7" x2="706.66" y2="220.7" stroke="#adadad" stroke-width="0.8"/>
<rect x="704.71" y="207.6" width="3.9" height="6.1" fill="#0404f4" stroke="#2e6b3a" stroke-opacity="0.55" stroke-width="0.45"/>
<line x1="712.31" y1="206.3" x2="712.31" y2="214.2" stroke="#adadad" stroke-width="0.8"/>
<rect x="710.36" y="207.2" width="3.9" height="2.5" fill="#f40404" stroke="#7a1414" stroke-opacity="0.55" stroke-width="0.45"/>
<line x1="717.96" y1="191.8" x2="717.96" y2="209.8" stroke="#adadad" stroke-width="0.8"/>
<rect x="716.01" y="194.9" width="3.9" height="14.4" fill="#0404f4" stroke="#2e6b3a" stroke-opacity="0.55" stroke-width="0.45"/>
<line x1="723.60" y1="184.1" x2="723.60" y2="203.0" stroke="#adadad" stroke-width="0.8"/>
<rect x="721.65" y="195.0" width="3.9" height="2.0" fill="#f40404" stroke="#7a1414" stroke-opacity="0.55" stroke-width="0.45"/>
<line x1="729.25" y1="171.0" x2="729.25" y2="197.5" stroke="#adadad" stroke-width="0.8"/>
<rect x="727.30" y="177.8" width="3.9" height="19.2" fill="#0404f4" stroke="#2e6b3a" stroke-opacity="0.55" stroke-width="0.45"/>
<line x1="734.90" y1="168.6" x2="734.90" y2="177.8" stroke="#adadad" stroke-width="0.8"/>
<rect x="732.95" y="169.0" width="3.9" height="8.0" fill="#0404f4" stroke="#2e6b3a" stroke-opacity="0.55" stroke-width="0.45"/>
<line x1="740.55" y1="168.2" x2="740.55" y2="182.0" stroke="#adadad" stroke-width="0.8"/>
<rect x="738.60" y="169.0" width="3.9" height="3.8" fill="#f40404" stroke="#7a1414" stroke-opacity="0.55" stroke-width="0.45"/>
<line x1="746.20" y1="168.6" x2="746.20" y2="177.5" stroke="#adadad" stroke-width="0.8"/>
<rect x="744.25" y="172.1" width="3.9" height="5.0" fill="#f40404" stroke="#7a1414" stroke-opacity="0.55" stroke-width="0.45"/>
<line x1="751.84" y1="149.7" x2="751.84" y2="186.2" stroke="#adadad" stroke-width="0.8"/>
<rect x="749.89" y="159.5" width="3.9" height="17.6" fill="#0404f4" stroke="#2e6b3a" stroke-opacity="0.55" stroke-width="0.45"/>
<line x1="757.49" y1="158.8" x2="757.49" y2="178.5" stroke="#adadad" stroke-width="0.8"/>
<rect x="755.54" y="159.5" width="3.9" height="12.6" fill="#f40404" stroke="#7a1414" stroke-opacity="0.55" stroke-width="0.45"/>
</g>
<line x1="395.6" y1="342.6" x2="887" y2="214.2" stroke="#0606f2" stroke-width="2.3" stroke-linecap="round"/>
<polyline points="6.5,407.7 17.6,403.8 28.1,404.7 45.7,406.8 63.2,409.4 79.0,411.5 96.6,413.3 113.3,409.8 130.3,405.9 141.9,400.7 153.3,394.9 164.2,388.7 175.6,383.4 186.1,382.2 194.9,382.6 200.5,383.4 212.8,385.7 225.1,391.9 235.7,398.9 246.2,405.9 256.7,413.5 265.9,417.9 277.8,420.8 286.6,422.6 295.4,425.2 305.9,425.6 316.4,426.1 328.2,425.8 339.3,424.4 351.0,423.8 362.1,424.4 373.5,422.6 384.0,421.4 390.5,422.6 401.6,421.4 412.8,420.3 423.9,419.1 435.7,415.9 450.2,412.1 463.8,408.9 474.8,405.6 485.9,404.7 497.6,402.1 503.4,401.2 514.7,402.8 525.7,403.3 537.5,403.6 553.8,403.3 570.9,403.0 584.0,402.8 596.3,400.3 610.4,400.1 627.9,400.7 639.0,401.0 650.2,401.9 661.3,403.3 672.7,406.8 684.1,407.7 695.0,405.0 706.6,401.5 717.5,398.0 728.9,394.2 740.3,388.9 751.7,383.1 757.0,381.7" fill="none" stroke="#fbd97c" stroke-width="1" stroke-linejoin="round"/>
<polygon points="141.9,377.4 147.5,372.6 153.2,371.3 158.8,373.1 164.5,371.3 170.1,365.5 175.7,371.7 181.4,377.4 181,377.4 140,377.4" fill="#4caf50" fill-opacity="0.07"/>
<polyline points="6.3,404.7 12.0,397.1 17.6,392.8 23.3,412.6 28.9,414.2 34.5,410.0 40.2,409.4 45.8,413.3 51.5,418.0 57.1,422.6 62.8,419.6 68.4,412.1 74.1,417.8 79.7,423.5 85.4,408.6 91.0,401.5 96.7,402.4 102.3,395.7 108.0,395.3 113.6,394.9 119.3,396.6 124.9,392.4 130.6,395.0 136.2,394.5 141.9,377.8 147.5,372.6 153.2,371.3 158.8,373.1 164.5,371.3 170.1,365.5 175.7,371.7 181.4,386.3 187.0,388.4 192.7,395.4 198.3,401.0 204.0,409.8 209.6,405.9 215.3,415.5 220.9,425.2 226.6,416.8 232.2,421.7 237.9,423.5 243.5,425.2 249.2,427.0 254.8,428.8 260.5,430.5 266.1,422.3 271.8,423.1 277.4,416.5 283.1,419.6 288.7,430.6 294.4,441.6 300.0,417.7 305.7,426.1 311.3,427.5 316.9,424.7 322.6,424.9 328.2,427.0 333.9,417.7 339.5,417.9 345.2,420.5 350.8,419.6 356.5,419.4 362.1,421.7 367.8,420.5 373.4,420.5 379.1,419.4 384.7,422.2 390.4,433.1 396.0,424.4 401.7,412.1 407.3,410.0 413.0,424.7 418.6,416.0 424.3,407.2 429.9,398.2 435.6,396.3 441.2,398.9 446.9,403.3 452.5,401.5 458.1,402.8 463.8,402.4 469.4,402.9 475.1,406.8 480.7,405.0 486.4,402.4 492.0,402.1 497.7,399.4 503.3,396.8 509.0,404.7 514.6,409.8 520.3,404.5 525.9,401.2 531.6,406.8 537.2,402.9 542.9,404.7 548.5,404.7 554.2,402.9 559.8,407.7 565.5,404.2 571.1,400.0 576.8,399.4 582.4,395.7 588.1,395.0 593.7,384.3 599.3,395.0 605.0,398.4 610.6,405.0 616.3,405.9 621.9,408.6 627.6,405.4 633.2,410.0 638.9,404.5 644.5,405.4 650.2,405.6 655.8,412.9 661.5,410.3 667.1,413.8 672.8,417.7 678.4,405.0 684.1,398.0 689.7,390.1 695.4,381.0 701.0,387.1 706.7,384.5 712.3,386.3 718.0,380.1 723.6,381.9 729.3,375.2 734.9,372.2 740.5,375.2 746.2,379.2 751.8,373.1 757.5,382.2" fill="none" stroke="#a845bb" stroke-width="0.95" stroke-linejoin="round"/>
<line x1="6.31" y1="468.5" x2="6.31" y2="466.00" stroke="#26a69a" stroke-width="1"/>
<line x1="11.96" y1="468.5" x2="11.96" y2="465.90" stroke="#26a69a" stroke-width="1"/>
<line x1="17.60" y1="468.5" x2="17.60" y2="465.90" stroke="#b2dfdb" stroke-width="1"/>
<line x1="23.25" y1="468.5" x2="23.25" y2="467.04" stroke="#b2dfdb" stroke-width="1"/>
<line x1="28.90" y1="468.5" x2="28.90" y2="468.11" stroke="#b2dfdb" stroke-width="1"/>
<line x1="34.55" y1="468.5" x2="34.55" y2="468.24" stroke="#b2dfdb" stroke-width="1"/>
<line x1="51.49" y1="468.5" x2="51.49" y2="469.14" stroke="#ff5252" stroke-width="1"/>
<line x1="57.14" y1="468.5" x2="57.14" y2="469.77" stroke="#ff5252" stroke-width="1"/>
<line x1="62.79" y1="468.5" x2="62.79" y2="470.40" stroke="#ff5252" stroke-width="1"/>
<line x1="68.44" y1="468.5" x2="68.44" y2="470.33" stroke="#ffcdd2" stroke-width="1"/>
<line x1="74.08" y1="468.5" x2="74.08" y2="470.27" stroke="#ffcdd2" stroke-width="1"/>
<line x1="79.73" y1="468.5" x2="79.73" y2="470.20" stroke="#ffcdd2" stroke-width="1"/>
<line x1="85.38" y1="468.5" x2="85.38" y2="469.40" stroke="#ffcdd2" stroke-width="1"/>
<line x1="96.68" y1="468.5" x2="96.68" y2="467.75" stroke="#26a69a" stroke-width="1"/>
<line x1="102.32" y1="468.5" x2="102.32" y2="466.76" stroke="#26a69a" stroke-width="1"/>
<line x1="107.97" y1="468.5" x2="107.97" y2="465.76" stroke="#26a69a" stroke-width="1"/>
<line x1="113.62" y1="468.5" x2="113.62" y2="465.41" stroke="#26a69a" stroke-width="1"/>
<line x1="119.27" y1="468.5" x2="119.27" y2="465.42" stroke="#b2dfdb" stroke-width="1"/>
<line x1="124.92" y1="468.5" x2="124.92" y2="465.76" stroke="#b2dfdb" stroke-width="1"/>
<line x1="130.56" y1="468.5" x2="130.56" y2="466.19" stroke="#b2dfdb" stroke-width="1"/>
<line x1="136.21" y1="468.5" x2="136.21" y2="465.85" stroke="#26a69a" stroke-width="1"/>
<line x1="141.86" y1="468.5" x2="141.86" y2="465.45" stroke="#26a69a" stroke-width="1"/>
<line x1="147.51" y1="468.5" x2="147.51" y2="464.44" stroke="#26a69a" stroke-width="1"/>
<line x1="153.16" y1="468.5" x2="153.16" y2="463.43" stroke="#26a69a" stroke-width="1"/>
<line x1="158.80" y1="468.5" x2="158.80" y2="462.41" stroke="#26a69a" stroke-width="1"/>
<line x1="164.45" y1="468.5" x2="164.45" y2="461.40" stroke="#26a69a" stroke-width="1"/>
<line x1="170.10" y1="468.5" x2="170.10" y2="461.60" stroke="#b2dfdb" stroke-width="1"/>
<line x1="175.75" y1="468.5" x2="175.75" y2="461.80" stroke="#b2dfdb" stroke-width="1"/>
<line x1="181.40" y1="468.5" x2="181.40" y2="463.65" stroke="#b2dfdb" stroke-width="1"/>
<line x1="187.04" y1="468.5" x2="187.04" y2="465.66" stroke="#b2dfdb" stroke-width="1"/>
<line x1="192.69" y1="468.5" x2="192.69" y2="468.05" stroke="#b2dfdb" stroke-width="1"/>
<line x1="198.34" y1="468.5" x2="198.34" y2="469.85" stroke="#ff5252" stroke-width="1"/>
<line x1="203.99" y1="468.5" x2="203.99" y2="471.46" stroke="#ff5252" stroke-width="1"/>
<line x1="209.64" y1="468.5" x2="209.64" y2="472.38" stroke="#ff5252" stroke-width="1"/>
<line x1="215.28" y1="468.5" x2="215.28" y2="473.95" stroke="#ff5252" stroke-width="1"/>
<line x1="220.93" y1="468.5" x2="220.93" y2="475.02" stroke="#ff5252" stroke-width="1"/>
<line x1="226.58" y1="468.5" x2="226.58" y2="475.75" stroke="#ff5252" stroke-width="1"/>
<line x1="232.23" y1="468.5" x2="232.23" y2="476.38" stroke="#ff5252" stroke-width="1"/>
<line x1="237.88" y1="468.5" x2="237.88" y2="476.40" stroke="#ff5252" stroke-width="1"/>
<line x1="243.52" y1="468.5" x2="243.52" y2="476.40" stroke="#ff5252" stroke-width="1"/>
<line x1="249.17" y1="468.5" x2="249.17" y2="476.15" stroke="#ffcdd2" stroke-width="1"/>
<line x1="254.82" y1="468.5" x2="254.82" y2="475.79" stroke="#ffcdd2" stroke-width="1"/>
<line x1="260.47" y1="468.5" x2="260.47" y2="475.37" stroke="#ffcdd2" stroke-width="1"/>
<line x1="266.12" y1="468.5" x2="266.12" y2="474.77" stroke="#ffcdd2" stroke-width="1"/>
<line x1="271.76" y1="468.5" x2="271.76" y2="473.31" stroke="#ffcdd2" stroke-width="1"/>
<line x1="277.41" y1="468.5" x2="277.41" y2="472.12" stroke="#ffcdd2" stroke-width="1"/>
<line x1="283.06" y1="468.5" x2="283.06" y2="471.06" stroke="#ffcdd2" stroke-width="1"/>
<line x1="288.71" y1="468.5" x2="288.71" y2="471.96" stroke="#ff5252" stroke-width="1"/>
<line x1="294.36" y1="468.5" x2="294.36" y2="474.05" stroke="#ff5252" stroke-width="1"/>
<line x1="300.00" y1="468.5" x2="300.00" y2="473.04" stroke="#ffcdd2" stroke-width="1"/>
<line x1="305.65" y1="468.5" x2="305.65" y2="473.21" stroke="#ff5252" stroke-width="1"/>
<line x1="311.30" y1="468.5" x2="311.30" y2="473.33" stroke="#ff5252" stroke-width="1"/>
<line x1="316.95" y1="468.5" x2="316.95" y2="472.80" stroke="#ffcdd2" stroke-width="1"/>
<line x1="322.60" y1="468.5" x2="322.60" y2="472.27" stroke="#ffcdd2" stroke-width="1"/>
<line x1="328.24" y1="468.5" x2="328.24" y2="472.04" stroke="#ffcdd2" stroke-width="1"/>
<line x1="333.89" y1="468.5" x2="333.89" y2="470.14" stroke="#ffcdd2" stroke-width="1"/>
<line x1="339.54" y1="468.5" x2="339.54" y2="469.14" stroke="#ffcdd2" stroke-width="1"/>
<line x1="350.84" y1="468.5" x2="350.84" y2="467.99" stroke="#26a69a" stroke-width="1"/>
<line x1="356.48" y1="468.5" x2="356.48" y2="467.76" stroke="#26a69a" stroke-width="1"/>
<line x1="362.13" y1="468.5" x2="362.13" y2="467.31" stroke="#26a69a" stroke-width="1"/>
<line x1="367.78" y1="468.5" x2="367.78" y2="466.78" stroke="#26a69a" stroke-width="1"/>
<line x1="373.43" y1="468.5" x2="373.43" y2="466.20" stroke="#26a69a" stroke-width="1"/>
<line x1="379.08" y1="468.5" x2="379.08" y2="465.79" stroke="#26a69a" stroke-width="1"/>
<line x1="384.72" y1="468.5" x2="384.72" y2="465.88" stroke="#b2dfdb" stroke-width="1"/>
<line x1="390.37" y1="468.5" x2="390.37" y2="467.61" stroke="#b2dfdb" stroke-width="1"/>
<line x1="396.02" y1="468.5" x2="396.02" y2="468.00" stroke="#b2dfdb" stroke-width="1"/>
<line x1="401.67" y1="468.5" x2="401.67" y2="467.17" stroke="#26a69a" stroke-width="1"/>
<line x1="407.32" y1="468.5" x2="407.32" y2="466.59" stroke="#26a69a" stroke-width="1"/>
<line x1="412.96" y1="468.5" x2="412.96" y2="467.60" stroke="#b2dfdb" stroke-width="1"/>
<line x1="418.61" y1="468.5" x2="418.61" y2="467.26" stroke="#26a69a" stroke-width="1"/>
<line x1="424.26" y1="468.5" x2="424.26" y2="465.88" stroke="#26a69a" stroke-width="1"/>
<line x1="429.91" y1="468.5" x2="429.91" y2="463.84" stroke="#26a69a" stroke-width="1"/>
<line x1="435.56" y1="468.5" x2="435.56" y2="462.38" stroke="#26a69a" stroke-width="1"/>
<line x1="441.20" y1="468.5" x2="441.20" y2="462.12" stroke="#26a69a" stroke-width="1"/>
<line x1="446.85" y1="468.5" x2="446.85" y2="462.52" stroke="#b2dfdb" stroke-width="1"/>
<line x1="452.50" y1="468.5" x2="452.50" y2="462.99" stroke="#b2dfdb" stroke-width="1"/>
<line x1="458.15" y1="468.5" x2="458.15" y2="463.51" stroke="#b2dfdb" stroke-width="1"/>
<line x1="463.80" y1="468.5" x2="463.80" y2="464.06" stroke="#b2dfdb" stroke-width="1"/>
<line x1="469.44" y1="468.5" x2="469.44" y2="464.60" stroke="#b2dfdb" stroke-width="1"/>
<line x1="475.09" y1="468.5" x2="475.09" y2="465.21" stroke="#b2dfdb" stroke-width="1"/>
<line x1="480.74" y1="468.5" x2="480.74" y2="465.81" stroke="#b2dfdb" stroke-width="1"/>
<line x1="486.39" y1="468.5" x2="486.39" y2="466.29" stroke="#b2dfdb" stroke-width="1"/>
<line x1="492.04" y1="468.5" x2="492.04" y2="466.53" stroke="#b2dfdb" stroke-width="1"/>
<line x1="497.68" y1="468.5" x2="497.68" y2="466.72" stroke="#b2dfdb" stroke-width="1"/>
<line x1="503.33" y1="468.5" x2="503.33" y2="466.80" stroke="#b2dfdb" stroke-width="1"/>
<line x1="508.98" y1="468.5" x2="508.98" y2="467.59" stroke="#b2dfdb" stroke-width="1"/>
<line x1="514.63" y1="468.5" x2="514.63" y2="468.16" stroke="#b2dfdb" stroke-width="1"/>
<line x1="520.28" y1="468.5" x2="520.28" y2="468.25" stroke="#b2dfdb" stroke-width="1"/>
<line x1="554.16" y1="468.5" x2="554.16" y2="468.79" stroke="#ff5252" stroke-width="1"/>
<line x1="559.81" y1="468.5" x2="559.81" y2="468.89" stroke="#ff5252" stroke-width="1"/>
<line x1="576.76" y1="468.5" x2="576.76" y2="468.18" stroke="#26a69a" stroke-width="1"/>
<line x1="582.40" y1="468.5" x2="582.40" y2="467.84" stroke="#26a69a" stroke-width="1"/>
<line x1="588.05" y1="468.5" x2="588.05" y2="467.30" stroke="#26a69a" stroke-width="1"/>
<line x1="593.70" y1="468.5" x2="593.70" y2="466.61" stroke="#26a69a" stroke-width="1"/>
<line x1="599.35" y1="468.5" x2="599.35" y2="466.77" stroke="#b2dfdb" stroke-width="1"/>
<line x1="605.00" y1="468.5" x2="605.00" y2="467.30" stroke="#b2dfdb" stroke-width="1"/>
<line x1="610.64" y1="468.5" x2="610.64" y2="468.09" stroke="#b2dfdb" stroke-width="1"/>
<line x1="616.29" y1="468.5" x2="616.29" y2="468.88" stroke="#ff5252" stroke-width="1"/>
<line x1="621.94" y1="468.5" x2="621.94" y2="468.94" stroke="#ff5252" stroke-width="1"/>
<line x1="627.59" y1="468.5" x2="627.59" y2="468.98" stroke="#ff5252" stroke-width="1"/>
<line x1="633.24" y1="468.5" x2="633.24" y2="468.99" stroke="#ff5252" stroke-width="1"/>
<line x1="638.88" y1="468.5" x2="638.88" y2="468.96" stroke="#ffcdd2" stroke-width="1"/>
<line x1="644.53" y1="468.5" x2="644.53" y2="469.07" stroke="#ff5252" stroke-width="1"/>
<line x1="650.18" y1="468.5" x2="650.18" y2="469.17" stroke="#ff5252" stroke-width="1"/>
<line x1="655.83" y1="468.5" x2="655.83" y2="469.38" stroke="#ff5252" stroke-width="1"/>
<line x1="661.48" y1="468.5" x2="661.48" y2="469.62" stroke="#ff5252" stroke-width="1"/>
<line x1="667.12" y1="468.5" x2="667.12" y2="469.77" stroke="#ff5252" stroke-width="1"/>
<line x1="672.77" y1="468.5" x2="672.77" y2="469.64" stroke="#ffcdd2" stroke-width="1"/>
<line x1="678.42" y1="468.5" x2="678.42" y2="469.16" stroke="#ffcdd2" stroke-width="1"/>
<line x1="689.72" y1="468.5" x2="689.72" y2="467.35" stroke="#26a69a" stroke-width="1"/>
<line x1="695.36" y1="468.5" x2="695.36" y2="465.59" stroke="#26a69a" stroke-width="1"/>
<line x1="701.01" y1="468.5" x2="701.01" y2="465.34" stroke="#26a69a" stroke-width="1"/>
<line x1="706.66" y1="468.5" x2="706.66" y2="465.10" stroke="#26a69a" stroke-width="1"/>
<line x1="712.31" y1="468.5" x2="712.31" y2="464.94" stroke="#26a69a" stroke-width="1"/>
<line x1="717.96" y1="468.5" x2="717.96" y2="464.79" stroke="#26a69a" stroke-width="1"/>
<line x1="723.60" y1="468.5" x2="723.60" y2="464.62" stroke="#26a69a" stroke-width="1"/>
<line x1="729.25" y1="468.5" x2="729.25" y2="464.42" stroke="#26a69a" stroke-width="1"/>
<line x1="734.90" y1="468.5" x2="734.90" y2="464.36" stroke="#26a69a" stroke-width="1"/>
<line x1="740.55" y1="468.5" x2="740.55" y2="464.51" stroke="#b2dfdb" stroke-width="1"/>
<line x1="746.20" y1="468.5" x2="746.20" y2="464.81" stroke="#b2dfdb" stroke-width="1"/>
<line x1="751.84" y1="468.5" x2="751.84" y2="465.17" stroke="#b2dfdb" stroke-width="1"/>
<line x1="757.49" y1="468.5" x2="757.49" y2="465.60" stroke="#b2dfdb" stroke-width="1"/>
<polyline points="6.3,472.0 17.1,469.9 28.5,469.7 45.7,469.9 62.8,471.4 79.9,473.1 97.0,472.2 110.0,471.0 130.7,467.2 141.6,464.9 153.9,461.9 164.4,459.0 175.8,455.8 185.5,454.0 194.3,453.7 204.8,454.9 215.4,457.6 232.4,463.7 245.2,468.1 259.3,473.0 273.3,476.3 285.6,477.8 300.2,481.0 310.5,483.9 324.6,486.5 334.6,487.4 345.7,487.4 357.9,486.5 367.6,486.5 377.3,485.7 391.3,484.8 405.4,483.9 421.2,482.7 428.2,481.6 435.2,479.5 449.3,475.6 458.0,473.4 469.4,471.6 484.4,469.5 496.0,468.4 503.5,467.7 537.4,467.2 571.3,467.2 584.8,466.3 595.4,465.5 605.0,464.9 616.4,465.1 630.5,465.8 651.5,466.9 665.6,467.7 674.4,468.4 687.1,468.3 695.1,467.4 706.5,465.7 721.4,463.4 732.8,461.3 740.4,460.0 749.9,458.3 756.8,457.5" fill="none" stroke="#ff8c3a" stroke-width="1" stroke-linejoin="round"/>
<polyline points="6.3,469.5 17.1,467.2 28.5,469.3 45.7,469.9 62.8,473.3 79.9,474.8 97.0,471.4 110.0,467.9 120.5,466.0 130.7,464.9 141.6,461.9 153.9,456.7 164.4,451.9 175.8,449.1 185.5,450.5 198.3,455.5 210.1,460.2 222.4,466.9 232.4,471.6 245.2,476.0 259.3,480.0 266.3,480.9 273.3,480.7 283.8,480.0 289.1,482.1 294.4,485.3 300.2,485.5 310.5,488.8 328.1,490.4 334.6,488.8 345.7,487.1 357.9,485.7 367.6,484.8 377.3,483.0 384.3,482.5 391.3,484.2 398.3,483.9 405.4,481.6 412.4,482.5 421.2,481.3 428.2,477.4 435.2,473.4 440.5,471.6 449.3,469.8 458.0,468.4 469.4,467.7 484.4,467.2 496.0,466.6 503.5,466.0 512.8,467.2 537.4,467.2 560.2,467.6 571.3,467.2 584.8,465.5 595.4,463.4 605.0,463.7 616.4,465.5 630.5,466.3 638.9,466.7 651.5,467.6 665.6,469.0 674.4,469.5 687.1,468.0 695.1,464.5 706.5,462.3 721.4,459.6 732.8,457.1 740.4,456.0 749.9,454.8 756.8,454.6" fill="none" stroke="#3aa0f5" stroke-width="1" stroke-linejoin="round"/>
<g fill="none" stroke="#a038b2" stroke-width="1"><path d="M751.7,350.0 A6.4,6.4 0 1 1 753.4,357.6"/></g>
<path d="M759.3,349.6 L755.5,352.9 L759.4,352.5 L755.9,355.7" fill="none" stroke="#a038b2" stroke-width="1.1" stroke-linejoin="round"/>
<path d="M750.9,352.0 Q751.3,354.5 753.8,354.9 Q751.3,355.3 750.9,357.8 Q750.5,355.3 748.0,354.9 Q750.5,354.5 750.9,352.0 Z" fill="#4a4af5"/>
<rect x="6.3" y="16.4" width="1126.7" height="493.8" fill="none" stroke="#e4e6ee" stroke-width="1"/>
<line x1="1098.4" y1="16.4" x2="1098.4" y2="510.2" stroke="#5c5c5c" stroke-width="1"/>
<line x1="6.3" y1="493.3" x2="1133.0" y2="493.3" stroke="#5c5c5c" stroke-width="1"/>
<text x="1103.7" y="53.0" font-size="6.70" fill="#3a3a3a" textLength="24.1" lengthAdjust="spacingAndGlyphs" stroke="#3a3a3a" stroke-width="0.16">2.98000</text>
<text x="1103.7" y="73.9" font-size="6.70" fill="#3a3a3a" textLength="24.1" lengthAdjust="spacingAndGlyphs" stroke="#3a3a3a" stroke-width="0.16">2.96000</text>
<text x="1103.7" y="94.8" font-size="6.70" fill="#3a3a3a" textLength="24.1" lengthAdjust="spacingAndGlyphs" stroke="#3a3a3a" stroke-width="0.16">2.94000</text>
<text x="1103.7" y="115.7" font-size="6.70" fill="#3a3a3a" textLength="24.1" lengthAdjust="spacingAndGlyphs" stroke="#3a3a3a" stroke-width="0.16">2.92000</text>
<text x="1103.7" y="136.6" font-size="6.70" fill="#3a3a3a" textLength="24.1" lengthAdjust="spacingAndGlyphs" stroke="#3a3a3a" stroke-width="0.16">2.90000</text>
<text x="1103.7" y="157.5" font-size="6.70" fill="#3a3a3a" textLength="24.1" lengthAdjust="spacingAndGlyphs" stroke="#3a3a3a" stroke-width="0.16">2.88000</text>
<text x="1103.7" y="178.4" font-size="6.70" fill="#3a3a3a" textLength="24.1" lengthAdjust="spacingAndGlyphs" stroke="#3a3a3a" stroke-width="0.16">2.86000</text>
<text x="1103.7" y="199.3" font-size="6.70" fill="#3a3a3a" textLength="24.1" lengthAdjust="spacingAndGlyphs" stroke="#3a3a3a" stroke-width="0.16">2.84000</text>
<text x="1103.7" y="220.2" font-size="6.70" fill="#3a3a3a" textLength="24.1" lengthAdjust="spacingAndGlyphs" stroke="#3a3a3a" stroke-width="0.16">2.82000</text>
<text x="1103.7" y="241.1" font-size="6.70" fill="#3a3a3a" textLength="24.1" lengthAdjust="spacingAndGlyphs" stroke="#3a3a3a" stroke-width="0.16">2.80000</text>
<text x="1103.7" y="262.0" font-size="6.70" fill="#3a3a3a" textLength="24.1" lengthAdjust="spacingAndGlyphs" stroke="#3a3a3a" stroke-width="0.16">2.78000</text>
<text x="1103.7" y="282.9" font-size="6.70" fill="#3a3a3a" textLength="24.1" lengthAdjust="spacingAndGlyphs" stroke="#3a3a3a" stroke-width="0.16">2.76000</text>
<text x="1103.7" y="303.8" font-size="6.70" fill="#3a3a3a" textLength="24.1" lengthAdjust="spacingAndGlyphs" stroke="#3a3a3a" stroke-width="0.16">2.74000</text>
<text x="1103.7" y="324.7" font-size="6.70" fill="#3a3a3a" textLength="24.1" lengthAdjust="spacingAndGlyphs" stroke="#3a3a3a" stroke-width="0.16">2.72000</text>
<clipPath id="c80"><rect x="1099" y="361" width="34" height="10"/></clipPath>
<text x="1103.7" y="365.4" font-size="6.70" fill="#3a3a3a" textLength="16.8" lengthAdjust="spacingAndGlyphs" clip-path="url(#c80)" stroke="#3a3a3a" stroke-width="0.16">80.00</text>
<text x="1103.7" y="394.0" font-size="6.70" fill="#3a3a3a" textLength="16.8" lengthAdjust="spacingAndGlyphs" stroke="#3a3a3a" stroke-width="0.16">60.00</text>
<text x="1103.7" y="422.1" font-size="6.70" fill="#3a3a3a" textLength="16.8" lengthAdjust="spacingAndGlyphs" stroke="#3a3a3a" stroke-width="0.16">40.00</text>
<text x="1103.7" y="470.9" font-size="6.70" fill="#3a3a3a" textLength="24.1" lengthAdjust="spacingAndGlyphs" stroke="#3a3a3a" stroke-width="0.16">0.00000</text>
<rect x="1098.9" y="29.3" width="31.1" height="10.4" rx="1" fill="#ff1a1a"/>
<rect x="1099.2" y="17" width="33" height="20.9" fill="#ffffff"/>
<rect x="1100.6" y="19.8" width="29.4" height="15.2" rx="2" fill="#ffffff" stroke="#e4e6ee" stroke-width="1"/>
<text x="1106.8" y="30.0" font-size="6.70" fill="#222222" textLength="13.4" lengthAdjust="spacingAndGlyphs" stroke="#222222" stroke-width="0.16">USD</text>
<rect x="1098.9" y="103.5" width="31.1" height="10.2" rx="1" fill="#ff1a1a"/>
<text x="1103.7" y="110.8" font-size="6.70" fill="#ffffff" font-weight="bold" textLength="24.1" lengthAdjust="spacingAndGlyphs">2.92477</text>
<rect x="1098.9" y="148.3" width="31.1" height="10.1" rx="1" fill="#ff1a1a"/>
<text x="1103.7" y="155.5" font-size="6.70" fill="#ffffff" font-weight="bold" textLength="24.1" lengthAdjust="spacingAndGlyphs">2.88212</text>
<rect x="1098.9" y="167.3" width="31.1" height="18.5" rx="1" fill="#ff1a1a"/>
<text x="1103.7" y="174.8" font-size="6.70" fill="#ffffff" font-weight="bold" textLength="24.1" lengthAdjust="spacingAndGlyphs">2.86384</text>
<text x="1103.7" y="183.2" font-size="6.70" fill="#ffd0d0" textLength="16.8" lengthAdjust="spacingAndGlyphs" stroke="#ffd0d0" stroke-width="0.16">02:34</text>
<rect x="1098.9" y="228.4" width="31.1" height="10.0" rx="1" fill="#4caf50"/>
<text x="1103.7" y="235.6" font-size="6.70" fill="#ffffff" font-weight="bold" textLength="24.1" lengthAdjust="spacingAndGlyphs">2.80570</text>
<rect x="1098.9" y="337.9" width="31.1" height="10.1" rx="1" fill="#4caf50"/>
<text x="1103.7" y="345.1" font-size="6.70" fill="#ffffff" font-weight="bold" textLength="24.1" lengthAdjust="spacingAndGlyphs">2.70065</text>
<text x="1093.0" y="29.4" font-size="7.40" fill="#6aaee0" text-anchor="end" textLength="37.4" lengthAdjust="spacingAndGlyphs" stroke="#6aaee0" stroke-width="0.16">1 (2.99544)</text>
<text x="1093.0" y="101.8" font-size="7.40" fill="#cc2424" text-anchor="end" textLength="52.3" lengthAdjust="spacingAndGlyphs" stroke="#cc2424" stroke-width="0.16">0.764 (2.92587)</text>
<text x="1093.0" y="147.1" font-size="7.40" fill="#36b88f" text-anchor="end" textLength="52.3" lengthAdjust="spacingAndGlyphs" stroke="#36b88f" stroke-width="0.16">0.618 (2.88284)</text>
<text x="1093.0" y="183.7" font-size="7.40" fill="#4a2545" text-anchor="end" textLength="44.4" lengthAdjust="spacingAndGlyphs" stroke="#4a2545" stroke-width="0.16">0.5 (2.84806)</text>
<text x="1093.0" y="265.2" font-size="7.40" fill="#e83c3c" text-anchor="end" textLength="52.3" lengthAdjust="spacingAndGlyphs" stroke="#e83c3c" stroke-width="0.16">0.236 (2.77024)</text>
<text x="1093.0" y="338.2" font-size="7.40" fill="#7d7f88" text-anchor="end" textLength="38.3" lengthAdjust="spacingAndGlyphs" stroke="#7d7f88" stroke-width="0.16">0 (2.70067)</text>
<text x="29.1" y="504.1" font-size="6.70" fill="#3a3a3a" text-anchor="middle" textLength="16.5" lengthAdjust="spacingAndGlyphs" stroke="#3a3a3a" stroke-width="0.16">18:00</text>
<text x="63.0" y="504.1" font-size="6.70" fill="#3a3a3a" text-anchor="middle" textLength="7.4" lengthAdjust="spacingAndGlyphs" stroke="#3a3a3a" stroke-width="0.16">24</text>
<text x="96.9" y="504.1" font-size="6.70" fill="#3a3a3a" text-anchor="middle" textLength="16.5" lengthAdjust="spacingAndGlyphs" stroke="#3a3a3a" stroke-width="0.16">06:00</text>
<text x="130.8" y="504.1" font-size="6.70" fill="#3a3a3a" text-anchor="middle" textLength="16.5" lengthAdjust="spacingAndGlyphs" stroke="#3a3a3a" stroke-width="0.16">12:00</text>
<text x="164.7" y="504.1" font-size="6.70" fill="#3a3a3a" text-anchor="middle" textLength="16.5" lengthAdjust="spacingAndGlyphs" stroke="#3a3a3a" stroke-width="0.16">18:00</text>
<text x="198.5" y="504.1" font-size="6.70" fill="#3a3a3a" text-anchor="middle" textLength="7.4" lengthAdjust="spacingAndGlyphs" stroke="#3a3a3a" stroke-width="0.16">25</text>
<text x="232.4" y="504.1" font-size="6.70" fill="#3a3a3a" text-anchor="middle" textLength="16.5" lengthAdjust="spacingAndGlyphs" stroke="#3a3a3a" stroke-width="0.16">06:00</text>
<text x="266.3" y="504.1" font-size="6.70" fill="#3a3a3a" text-anchor="middle" textLength="16.5" lengthAdjust="spacingAndGlyphs" stroke="#3a3a3a" stroke-width="0.16">12:00</text>
<text x="300.2" y="504.1" font-size="6.70" fill="#3a3a3a" text-anchor="middle" textLength="16.5" lengthAdjust="spacingAndGlyphs" stroke="#3a3a3a" stroke-width="0.16">18:00</text>
<text x="334.1" y="504.1" font-size="6.70" fill="#3a3a3a" text-anchor="middle" textLength="7.4" lengthAdjust="spacingAndGlyphs" stroke="#3a3a3a" stroke-width="0.16">26</text>
<text x="368.0" y="504.1" font-size="6.70" fill="#3a3a3a" text-anchor="middle" textLength="16.5" lengthAdjust="spacingAndGlyphs" stroke="#3a3a3a" stroke-width="0.16">06:00</text>
<text x="401.9" y="504.1" font-size="6.70" fill="#3a3a3a" text-anchor="middle" textLength="16.5" lengthAdjust="spacingAndGlyphs" stroke="#3a3a3a" stroke-width="0.16">12:00</text>
<text x="435.8" y="504.1" font-size="6.70" fill="#3a3a3a" text-anchor="middle" textLength="16.5" lengthAdjust="spacingAndGlyphs" stroke="#3a3a3a" stroke-width="0.16">18:00</text>
<text x="469.7" y="504.1" font-size="6.70" fill="#3a3a3a" text-anchor="middle" textLength="7.4" lengthAdjust="spacingAndGlyphs" stroke="#3a3a3a" stroke-width="0.16">27</text>
<text x="503.5" y="504.1" font-size="6.70" fill="#3a3a3a" text-anchor="middle" textLength="16.5" lengthAdjust="spacingAndGlyphs" stroke="#3a3a3a" stroke-width="0.16">06:00</text>
<text x="537.4" y="504.1" font-size="6.70" fill="#3a3a3a" text-anchor="middle" textLength="16.5" lengthAdjust="spacingAndGlyphs" stroke="#3a3a3a" stroke-width="0.16">12:00</text>
<text x="571.3" y="504.1" font-size="6.70" fill="#3a3a3a" text-anchor="middle" textLength="16.5" lengthAdjust="spacingAndGlyphs" stroke="#3a3a3a" stroke-width="0.16">18:00</text>
<text x="605.2" y="504.1" font-size="6.70" fill="#3a3a3a" text-anchor="middle" textLength="7.4" lengthAdjust="spacingAndGlyphs" stroke="#3a3a3a" stroke-width="0.16">28</text>
<text x="639.1" y="504.1" font-size="6.70" fill="#3a3a3a" text-anchor="middle" textLength="16.5" lengthAdjust="spacingAndGlyphs" stroke="#3a3a3a" stroke-width="0.16">06:00</text>
<text x="673.0" y="504.1" font-size="6.70" fill="#3a3a3a" text-anchor="middle" textLength="16.5" lengthAdjust="spacingAndGlyphs" stroke="#3a3a3a" stroke-width="0.16">12:00</text>
<text x="706.9" y="504.1" font-size="6.70" fill="#3a3a3a" text-anchor="middle" textLength="16.5" lengthAdjust="spacingAndGlyphs" stroke="#3a3a3a" stroke-width="0.16">18:00</text>
<text x="740.8" y="504.1" font-size="6.70" fill="#3a3a3a" text-anchor="middle" textLength="7.4" lengthAdjust="spacingAndGlyphs" stroke="#3a3a3a" stroke-width="0.16">29</text>
<text x="774.7" y="504.1" font-size="6.70" fill="#3a3a3a" text-anchor="middle" textLength="16.5" lengthAdjust="spacingAndGlyphs" stroke="#3a3a3a" stroke-width="0.16">06:00</text>
<text x="808.5" y="504.1" font-size="6.70" fill="#3a3a3a" text-anchor="middle" textLength="16.5" lengthAdjust="spacingAndGlyphs" stroke="#3a3a3a" stroke-width="0.16">12:00</text>
<text x="842.4" y="504.1" font-size="6.70" fill="#3a3a3a" text-anchor="middle" textLength="16.5" lengthAdjust="spacingAndGlyphs" stroke="#3a3a3a" stroke-width="0.16">18:00</text>
<text x="876.3" y="504.1" font-size="6.70" fill="#3a3a3a" text-anchor="middle" textLength="7.4" lengthAdjust="spacingAndGlyphs" stroke="#3a3a3a" stroke-width="0.16">30</text>
<text x="910.2" y="504.1" font-size="6.70" fill="#3a3a3a" text-anchor="middle" textLength="16.5" lengthAdjust="spacingAndGlyphs" stroke="#3a3a3a" stroke-width="0.16">06:00</text>
<text x="944.1" y="504.1" font-size="6.70" fill="#3a3a3a" text-anchor="middle" textLength="16.5" lengthAdjust="spacingAndGlyphs" stroke="#3a3a3a" stroke-width="0.16">12:00</text>
<text x="978.0" y="504.1" font-size="6.70" fill="#3a3a3a" text-anchor="middle" textLength="16.5" lengthAdjust="spacingAndGlyphs" stroke="#3a3a3a" stroke-width="0.16">18:00</text>
<text x="1011.9" y="504.1" font-size="6.70" fill="#2a2a2a" text-anchor="middle" textLength="11.6" lengthAdjust="spacingAndGlyphs" stroke="#2a2a2a" stroke-width="0.3">Oct</text>
<text x="1045.8" y="504.1" font-size="6.70" fill="#3a3a3a" text-anchor="middle" textLength="16.5" lengthAdjust="spacingAndGlyphs" stroke="#3a3a3a" stroke-width="0.16">06:00</text>
<text x="1079.7" y="504.1" font-size="6.70" fill="#3a3a3a" text-anchor="middle" textLength="16.5" lengthAdjust="spacingAndGlyphs" stroke="#3a3a3a" stroke-width="0.16">12:00</text>
<text x="6.4" y="12.3" font-size="8.00" fill="#15171c" textLength="41.9" lengthAdjust="spacingAndGlyphs" stroke="#15171c" stroke-width="0.12">aayushjindal</text>
<text x="50.7" y="12.3" font-size="8.00" fill="#15171c" textLength="25.6" lengthAdjust="spacingAndGlyphs" stroke="#15171c" stroke-width="0.12">created</text>
<text x="78.1" y="12.3" font-size="8.00" fill="#15171c" textLength="15.2" lengthAdjust="spacingAndGlyphs" stroke="#15171c" stroke-width="0.12">with</text>
<text x="95.9" y="12.3" font-size="8.00" fill="#15171c" textLength="57.1" lengthAdjust="spacingAndGlyphs" stroke="#15171c" stroke-width="0.12">TradingView.com,</text>
<text x="156.5" y="12.3" font-size="8.00" fill="#15171c" textLength="11.2" lengthAdjust="spacingAndGlyphs" stroke="#15171c" stroke-width="0.12">Sep</text>
<text x="171.7" y="12.3" font-size="8.00" fill="#15171c" textLength="9.2" lengthAdjust="spacingAndGlyphs" stroke="#15171c" stroke-width="0.12">29,</text>
<text x="183.2" y="12.3" font-size="8.00" fill="#15171c" textLength="15.1" lengthAdjust="spacingAndGlyphs" stroke="#15171c" stroke-width="0.12">2025</text>
<text x="200.6" y="12.3" font-size="8.00" fill="#15171c" textLength="17.8" lengthAdjust="spacingAndGlyphs" stroke="#15171c" stroke-width="0.12">03:57</text>
<text x="222.4" y="12.3" font-size="8.00" fill="#15171c" textLength="12.2" lengthAdjust="spacingAndGlyphs" stroke="#15171c" stroke-width="0.12">UTC</text>
<text x="11.3" y="28.4" font-size="7.40" fill="#4d4d4d" textLength="101.4" lengthAdjust="spacingAndGlyphs" stroke="#4d4d4d" stroke-width="0.16">XRP / U.S. Dollar · 1h · Kraken</text>
<text x="117.9" y="28.4" font-size="7.40" fill="#4d4d4d" stroke="#4d4d4d" stroke-width="0.16">O</text>
<text x="122.9" y="28.4" font-size="7.40" fill="#8a2626" textLength="25.8" lengthAdjust="spacingAndGlyphs" stroke="#8a2626" stroke-width="0.16">2.87556</text>
<text x="153.7" y="28.4" font-size="7.40" fill="#4d4d4d" stroke="#4d4d4d" stroke-width="0.16">H</text>
<text x="158.4" y="28.4" font-size="7.40" fill="#8a2626" textLength="25.6" lengthAdjust="spacingAndGlyphs" stroke="#8a2626" stroke-width="0.16">2.87585</text>
<text x="189.9" y="28.4" font-size="7.40" fill="#4d4d4d" stroke="#4d4d4d" stroke-width="0.16">L</text>
<text x="193.8" y="28.4" font-size="7.40" fill="#8a2626" textLength="25.4" lengthAdjust="spacingAndGlyphs" stroke="#8a2626" stroke-width="0.16">2.85706</text>
<text x="223.9" y="28.4" font-size="7.40" fill="#4d4d4d" stroke="#4d4d4d" stroke-width="0.16">C</text>
<text x="228.7" y="28.4" font-size="7.40" fill="#8a2626" textLength="25.4" lengthAdjust="spacingAndGlyphs" stroke="#8a2626" stroke-width="0.16">2.86384</text>
<text x="259.3" y="28.4" font-size="7.40" fill="#8a2626" textLength="59.7" lengthAdjust="spacingAndGlyphs" stroke="#8a2626" stroke-width="0.16">−0.01193 (−0.41%)</text>
<text x="11.3" y="39.2" font-size="7.40" fill="#4d4d4d" textLength="54.1" lengthAdjust="spacingAndGlyphs" stroke="#4d4d4d" stroke-width="0.16">SMA (100, close)</text>
<text x="71.0" y="39.2" font-size="7.40" fill="#ff5252" stroke="#ff5252" stroke-width="0.16">3</text>
<text x="10.9" y="373.2" font-size="7.40" fill="#4d4d4d" textLength="47.1" lengthAdjust="spacingAndGlyphs" stroke="#4d4d4d" stroke-width="0.16">RSI (14, close)</text>
<text x="63.2" y="373.2" font-size="7.40" fill="#a838bd" textLength="17.8" lengthAdjust="spacingAndGlyphs" stroke="#a838bd" stroke-width="0.16">66.02</text>
<text x="85.7" y="373.2" font-size="7.40" fill="#fbdc3c" textLength="18.3" lengthAdjust="spacingAndGlyphs" stroke="#fbdc3c" stroke-width="0.16">66.59</text>
<text x="110.6" y="373.2" font-size="7.40" fill="#555" text-anchor="middle" stroke="#555" stroke-width="0.16">ø</text>
<text x="120.5" y="373.2" font-size="7.40" fill="#555" text-anchor="middle" stroke="#555" stroke-width="0.16">ø</text>
<text x="130.0" y="373.2" font-size="7.40" fill="#555" text-anchor="middle" stroke="#555" stroke-width="0.16">ø</text>
<text x="139.6" y="373.2" font-size="7.40" fill="#555" text-anchor="middle" stroke="#555" stroke-width="0.16">ø</text>
<text x="11.1" y="458.7" font-size="7.40" fill="#4d4d4d" textLength="68.8" lengthAdjust="spacingAndGlyphs" stroke="#4d4d4d" stroke-width="0.16">MACD (12, 26, close)</text>
<text x="84.5" y="458.7" font-size="7.40" fill="#a9d8d2" textLength="25.7" lengthAdjust="spacingAndGlyphs" stroke="#a9d8d2" stroke-width="0.16">0.00453</text>
<text x="115.3" y="458.7" font-size="7.40" fill="#2f9bf4" textLength="26.3" lengthAdjust="spacingAndGlyphs" stroke="#2f9bf4" stroke-width="0.16">0.02064</text>
<text x="146.0" y="458.7" font-size="7.40" fill="#ff7f2a" textLength="25.8" lengthAdjust="spacingAndGlyphs" stroke="#ff7f2a" stroke-width="0.16">0.01610</text>
<g fill="#141414">
<path d="M7.3,524.4 H14.85 V533.65 H11.05 V527.7 H7.3 Z"/>
<circle cx="17.97" cy="526.1" r="1.8"/>
<path d="M21.9,524.4 H25.85 L22.4,533.65 H18.3 Z"/>
</g>
<text x="30.5" y="533.8" font-size="13.10" fill="#141414" textLength="74.9" lengthAdjust="spacingAndGlyphs" stroke="#141414" stroke-width="0.45">TradingView</text>
</svg>
</body></html>
